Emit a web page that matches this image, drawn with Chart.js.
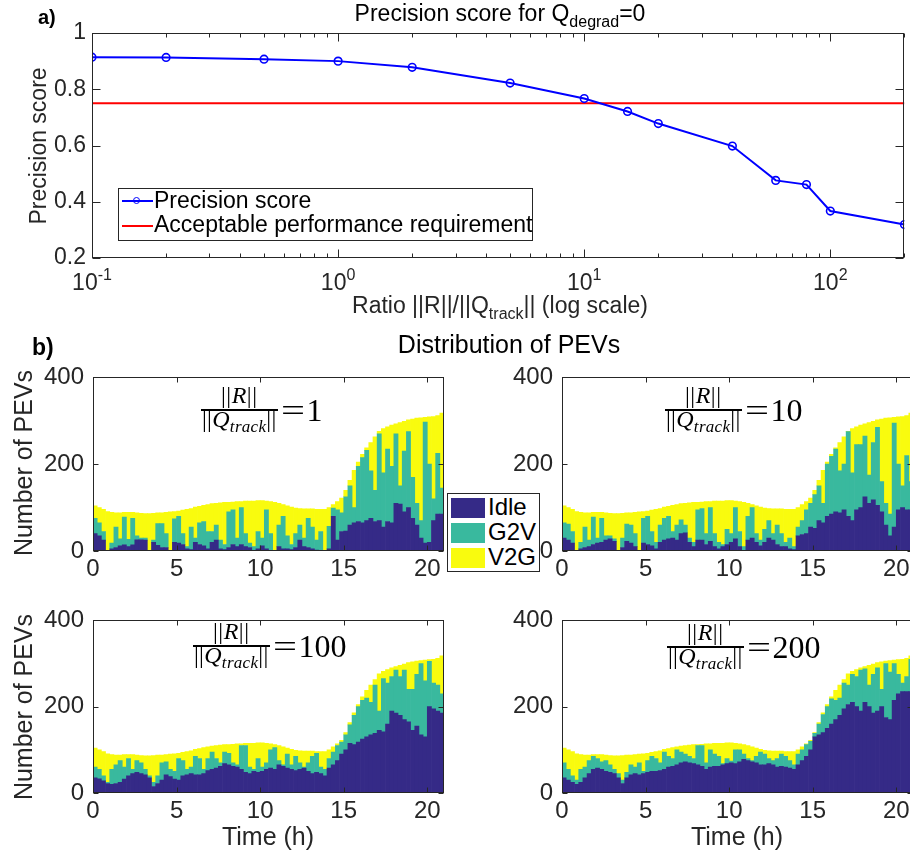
<!DOCTYPE html>
<html><head><meta charset="utf-8">
<script src="https://cdn.jsdelivr.net/npm/chart.js@4.4.1/dist/chart.umd.min.js"></script>
<style>
html,body{margin:0;padding:0;background:#fff;}
body{width:910px;height:859px;position:relative;overflow:hidden;font-family:'Liberation Sans',Arial,Helvetica,sans-serif;color:#262626;}
canvas{position:absolute;}
.t{position:absolute;white-space:nowrap;line-height:1;}
.c{transform:translateX(-50%);}
.rot{transform:translate(-50%,-50%) rotate(-90deg);}
.sub{font-size:16px;vertical-align:-6px;line-height:0;}
.box{position:absolute;border:1px solid #262626;background:#fff;}
.sw{position:absolute;}
.fl{position:absolute;display:flex;align-items:flex-start;font-family:'Liberation Serif','DejaVu Serif',serif;color:#000;line-height:1;}
.frac{display:flex;flex-direction:column;align-items:center;font-size:24px;}
.num{height:25px;line-height:22px;padding:0 1px;white-space:nowrap;letter-spacing:0.5px;}
.den{height:22px;line-height:22px;margin-top:-3px;padding:0 1px;white-space:nowrap;letter-spacing:0.3px;}
.den sub{font-size:17px;line-height:0;vertical-align:-5px;}
.bar{height:2px;background:#000;align-self:stretch;}
.eq{font-size:32px;line-height:32px;margin-top:10px;white-space:nowrap;}
.eq b{font-weight:normal;display:inline-block;transform:scaleX(1.33);margin:0 5px 0 6px;}
</style></head><body>
<canvas id="c0" width="910" height="320" style="left:0;top:0;width:910px;height:320px"></canvas>
<canvas id="c1" width="446" height="240" style="left:0;top:354px;width:446px;height:240px"></canvas>
<canvas id="c2" width="447" height="240" style="left:469px;top:354px;width:447px;height:240px"></canvas>
<canvas id="c3" width="446" height="240" style="left:0;top:597px;width:446px;height:240px"></canvas>
<canvas id="c4" width="447" height="240" style="left:469px;top:597px;width:447px;height:240px"></canvas>

<div class="t" style="left:38px;top:7px;font-weight:bold;font-size:20px;color:#000">a)</div>
<div class="t c" style="left:500px;top:1.5px;font-size:23px;color:#000">Precision score for Q<span class="sub">degrad</span>=0</div>
<div class="t rot" style="left:38px;top:146px;font-size:23px">Precision score</div>
<div class="t c" style="left:500px;top:293.5px;font-size:23px">Ratio ||R||/||Q<span class="sub">track</span>|| (log scale)</div>

<div class="box" style="left:118px;top:188px;width:413px;height:51px"></div>
<div class="sw" style="left:122px;top:200px;width:31px;height:2px;background:#0000ff"></div>
<div class="sw" style="left:133px;top:197px;width:5px;height:5px;border:1.5px solid #0000ff;border-radius:50%"></div>
<div class="sw" style="left:122px;top:225px;width:31px;height:2px;background:#ff0000"></div>
<div class="t" style="left:154px;top:188.5px;font-size:23px;color:#000">Precision score</div>
<div class="t" style="left:154px;top:212.5px;font-size:23px;color:#000">Acceptable performance requirement</div>

<div class="t" style="left:32px;top:335.5px;font-weight:bold;font-size:23px;color:#000">b)</div>
<div class="t c" style="left:509px;top:332px;font-size:25px;color:#000">Distribution of PEVs</div>
<div class="t rot" style="left:23px;top:463px;font-size:25px">Number of PEVs</div>
<div class="t rot" style="left:23px;top:707px;font-size:25px">Number of PEVs</div>
<div class="t c" style="left:268px;top:824px;font-size:25px">Time (h)</div>
<div class="t c" style="left:737px;top:824px;font-size:25px">Time (h)</div>

<div class="box" style="left:447px;top:493px;width:91px;height:77px"></div>
<div class="sw" style="left:451px;top:498px;width:34px;height:20px;background:#352a87"></div>
<div class="sw" style="left:451px;top:523px;width:34px;height:20px;background:#39b99e"></div>
<div class="sw" style="left:451px;top:548px;width:34px;height:20px;background:#f9fb0e"></div>
<div class="t" style="left:488px;top:495px;font-size:24px;color:#000">Idle</div>
<div class="t" style="left:488px;top:520px;font-size:24px;color:#000">G2V</div>
<div class="t" style="left:488px;top:545px;font-size:24px;color:#000">V2G</div>

<div id="fracs"></div>

<script>
// ---------- panel a) data ----------
const ratios = [0.1, 0.2, 0.5, 1, 2, 5, 10, 15, 20, 40, 60, 80, 100, 200];
const precision = [0.914, 0.913, 0.907, 0.900, 0.878, 0.822, 0.767, 0.721, 0.678, 0.598, 0.476, 0.461, 0.367, 0.319];
const requirement = 0.75;
const logTickExponents = [-1, 0, 1, 2];
const precisionTicks = [0.2, 0.4, 0.6, 0.8, 1];

// ---------- panel b) data ----------
const timeSlots = [
 0.125,0.375,0.625,0.875, 1.125,1.375,1.625,1.875, 2.125,2.375,2.625,2.875, 3.125,3.375,3.625,3.875, 4.125,4.375,4.625,4.875,
 5.125,5.375,5.625,5.875, 6.125,6.375,6.625,6.875, 7.125,7.375,7.625,7.875, 8.125,8.375,8.625,8.875, 9.125,9.375,9.625,9.875,
 10.125,10.375,10.625,10.875, 11.125,11.375,11.625,11.875, 12.125,12.375,12.625,12.875, 13.125,13.375,13.625,13.875, 14.125,14.375,14.625,14.875,
 15.125,15.375,15.625,15.875, 16.125,16.375,16.625,16.875, 17.125,17.375,17.625,17.875, 18.125,18.375,18.625,18.875, 19.125,19.375,19.625,19.875,
 20.125,20.375,20.625,20.875];
const timeTicks = [0, 5, 10, 15, 20];
const countTicks = [0, 200, 400];
const panelRatios = [1, 10, 100, 200];

const idle1 = [40,35,25,0,5,8,12,14,10,14, 26,26,25,0,20,13,8,8,0,20, 18,15,5,3,20,15,12,5,20,25, 5,3,8,15,10,15,10,8,0,5,
 12,5,0,0,10,5,5,3,8,25, 10,8,5,2,0,0,5,80,25,45, 46,60,65,68,65,70,75,68,70,55, 68,65,110,108,90,100,75,60,30,18, 20,70,85,85];
const g2v1 = [35,30,20,0,13,47,16,64,17,61, 9,4,5,0,5,50,55,32,0,54, 62,25,5,52,10,50,56,40,25,35, 20,12,82,80,20,85,30,10,10,40,
 18,90,40,0,50,75,30,12,32,35, 20,67,50,23,45,0,52,19,70,43, 79,90,35,127,150,162,110,72,200,125, 167,130,160,42,140,175,95,50,40,279, 180,50,140,60];
const v2g1 = [29,35,51,91,71,33,60,11,62,14, 53,57,56,86,62,25,25,49,90,17, 12,54,86,43,71,38,37,62,64,50, 86,97,22,18,84,14,75,97,105,71,
 86,20,74,112,50,27,69,86,59,38, 67,22,42,71,51,96,43,8,19,34, 15,13,86,10,8,6,65,123,6,102, 51,95,23,146,69,27,134,196,237,11, 109,190,87,173];

const idle2 = [30,25,18,0,5,8,10,15,18,20, 25,28,22,0,8,22,18,10,0,18, 15,12,5,20,25,28,30,25,40,42, 20,10,25,25,15,22,10,5,10,15,
 20,28,10,0,25,30,20,12,20,30, 25,15,10,10,5,3,35,38,40,55, 52,70,65,80,85,90,88,95,80,70, 95,100,125,110,118,105,90,60,35,55, 95,100,95,95];
const g2v2 = [35,37,27,0,15,47,15,63,12,55, 10,7,6,0,22,40,42,30,0,57, 65,33,15,40,50,52,15,35,32,18, 10,10,70,73,25,78,30,15,5,35,
 20,72,35,10,55,70,20,13,30,40, 15,45,30,10,25,7,20,32,55,55, 78,80,45,120,133,145,97,105,195,110, 150,145,140,65,132,180,70,50,50,240, 105,50,125,65];
const v2g2 = [39,38,51,91,69,33,63,11,59,14, 53,52,58,86,57,26,28,49,90,16, 12,49,76,38,26,23,60,47,37,50, 81,92,17,15,74,14,75,95,100,66,
 76,15,69,102,30,7,64,76,49,28, 57,37,57,76,66,86,45,37,19,12, 10,13,76,5,5,3,65,63,1,102, 41,45,28,121,49,17,144,196,222,13, 109,160,92,158];

const idle3 = [35,33,28,22,20,22,25,32,40,45, 48,45,42,35,15,22,30,42,38,32, 30,40,42,45,42,42,45,52,55,58, 62,68,65,62,60,55,48,45,50,48,
 50,55,58,55,65,62,58,55,52,55, 58,50,45,48,45,40,58,65,75,90, 100,115,112,118,125,130,135,138,145,142, 160,190,185,180,170,165,145,155,135,130, 200,195,190,185];
const g2v3 = [25,22,12,3,35,43,50,28,40,10, 27,25,13,5,10,18,40,30,17,18, 50,35,13,15,43,38,10,28,40,22, 8,27,27,8,5,55,62,15,5,32,
 10,15,42,50,10,3,32,10,33,15, 2,20,40,44,15,15,22,30,35,28, 35,43,68,82,90,90,75,112,45,123, 95,80,100,90,115,75,95,120,165,130, 105,60,60,45];
const v2g3 = [44,45,56,66,34,23,13,29,9,34, 13,17,31,46,62,48,18,17,35,41, 12,19,41,38,16,23,50,27,14,30, 41,17,20,43,49,4,5,55,60,36,
 56,45,14,7,35,42,14,36,14,28, 37,27,12,4,36,41,20,12,4,4, 5,5,6,5,8,18,40,13,86,17, 31,20,8,26,14,62,64,31,7,48, 4,55,62,88];

const idle4 = [35,30,25,20,25,35,45,55,58,55, 50,48,45,35,22,35,42,45,42,45, 48,50,50,52,55,60,62,65,70,72, 70,68,65,62,55,60,62,62,65,68,
 70,68,72,78,75,72,70,65,65,68, 65,60,62,60,58,55,65,75,85,100, 130,135,140,150,160,170,180,195,205,210, 200,190,210,200,185,190,200,175,170,215, 230,235,235,235];
const g2v4 = [35,25,15,10,30,25,30,30,22,17, 25,17,10,10,8,13,23,15,28,5, 27,35,30,18,40,25,18,35,25,18, 15,12,45,48,15,40,28,23,3,12,
 4,32,28,12,5,3,15,30,25,12, 10,20,28,25,17,10,25,25,27,20, 8,25,42,50,58,45,40,60,45,65, 70,95,78,50,90,100,40,125,110,85, 45,20,35,75];
const v2g4 = [34,45,56,61,34,28,13,4,9,17, 13,22,31,41,57,40,23,29,20,41, 17,9,16,28,6,18,25,7,14,20, 26,32,2,3,44,14,25,30,47,36,
 42,15,14,22,30,32,19,6,9,18, 22,17,7,11,21,31,10,7,2,2, 2,3,4,5,5,23,30,8,26,7, 16,5,5,46,24,12,64,6,27,8, 34,55,42,8];

// ---------- styling ----------
const FONT = "'Liberation Sans', Arial, Helvetica, sans-serif";
const AXIS = '#262626';
const COL_IDLE = '#352a87', COL_G2V = '#39b99e', COL_V2G = '#f9fb0e';
Chart.defaults.font.family = FONT;
Chart.defaults.color = AXIS;
Chart.defaults.animation = false;

const framePlugin = {
  id: 'frame',
  afterDraw(chart, args, o) {
    const {ctx, chartArea: a} = chart;
    const sx = chart.scales.x, sy = chart.scales.y;
    const L = Math.round(a.left) + 0.5, R = Math.round(a.right) - 0.5;
    const T = Math.round(a.top) + 0.5, B = Math.round(a.bottom) - 0.5;
    ctx.save();
    ctx.strokeStyle = AXIS; ctx.lineWidth = 1;
    ctx.beginPath();
    const tx = (vals, len) => vals.forEach(v => {
      const p = Math.round(sx.getPixelForValue(v)) + 0.5;
      ctx.moveTo(p, B); ctx.lineTo(p, B - len); ctx.moveTo(p, T); ctx.lineTo(p, T + len);
    });
    const ty = (vals, len) => vals.forEach(v => {
      const p = Math.round(sy.getPixelForValue(v)) + 0.5;
      ctx.moveTo(L, p); ctx.lineTo(L + len, p); ctx.moveTo(R, p); ctx.lineTo(R - len, p);
    });
    tx(o.xMajor, o.len); tx(o.xMinor || [], o.minorLen || 0); ty(o.yMajor, o.len);
    ctx.stroke();
    ctx.strokeRect(L, T, R - L, B - T);
    ctx.restore();
  }
};

const logLabelPlugin = {
  id: 'logLabels',
  afterDraw(chart) {
    const sx = chart.scales.x, ctx = chart.ctx;
    ctx.save();
    ctx.fillStyle = AXIS; ctx.textBaseline = 'alphabetic'; ctx.textAlign = 'left';
    logTickExponents.forEach(e => {
      const px = sx.getPixelForValue(Math.pow(10, e));
      ctx.font = "23px " + FONT; const wb = ctx.measureText('10').width;
      ctx.font = "16px " + FONT; const ex = String(e); const we = ctx.measureText(ex).width;
      const x0 = px - (wb + we) / 2;
      ctx.font = "23px " + FONT; ctx.fillText('10', x0, 290);
      ctx.font = "16px " + FONT; ctx.fillText(ex, x0 + wb, 280);
    });
    ctx.restore();
  }
};

// minor ticks on the log axis (positions of 2..9 x each decade)
const logMinor = [];
logTickExponents.forEach(e => { for (let m = 2; m <= 9; m++) { const v = m * Math.pow(10, e); if (v <= 200) logMinor.push(v); } });

new Chart(document.getElementById('c0'), {
  type: 'line',
  data: {
    datasets: [
      { label: 'Precision score', data: ratios.map((r, i) => ({x: r, y: precision[i]})),
        borderColor: '#0000ff', borderWidth: 2, pointRadius: 3.8, pointBorderWidth: 1.6,
        pointBackgroundColor: 'rgba(0,0,0,0)', pointBorderColor: '#0000ff', tension: 0 },
      { label: 'Acceptable performance requirement',
        data: [{x: ratios[0], y: requirement}, {x: ratios[ratios.length - 1], y: requirement}],
        borderColor: '#ff0000', borderWidth: 2, pointRadius: 0 }
    ]
  },
  options: {
    responsive: false, devicePixelRatio: 1, events: [],
    layout: {padding: {top: 33, right: 1, left: 0, bottom: 0}},
    plugins: {legend: {display: false}, tooltip: {enabled: false},
      frame: {xMajor: [0.1, 1, 10, 100], xMinor: logMinor, yMajor: precisionTicks, len: 8, minorLen: 4}},
    scales: {
      x: {type: 'logarithmic', min: 0.1, max: 200, grid: {display: false, drawTicks: false}, border: {display: false},
          ticks: {callback: () => ''}, afterFit: s => { s.height = 62; }},
      y: {min: 0.2, max: 1, grid: {display: false, drawTicks: false}, border: {display: false},
          ticks: {stepSize: 0.2, padding: 6, font: {size: 23}, color: AXIS,
                  callback: v => String(Math.round(v * 10) / 10)},
          afterFit: s => { s.width = 92; }}
    }
  },
  plugins: [framePlugin, logLabelPlugin]
});

function panel(id, idle, g2v, v2g, rightPad, xHeight) {
  new Chart(document.getElementById(id), {
    type: 'bar',
    data: {
      labels: timeSlots,
      datasets: [
        {label: 'Idle', data: idle, backgroundColor: COL_IDLE},
        {label: 'G2V', data: g2v, backgroundColor: COL_G2V},
        {label: 'V2G', data: v2g, backgroundColor: COL_V2G}
      ]
    },
    options: {
      responsive: false, devicePixelRatio: 1, events: [],
      barPercentage: 1, categoryPercentage: 1, borderWidth: 0,
      layout: {padding: {top: 20, right: rightPad, left: 0, bottom: 0}},
      plugins: {legend: {display: false}, tooltip: {enabled: false},
        frame: {xMajor: timeTicks, yMajor: countTicks, len: 5}},
      scales: {
        x: {type: 'linear', stacked: true, offset: false, min: 0, max: 21,
            grid: {display: false, drawTicks: false}, border: {display: false},
            ticks: {stepSize: 5, includeBounds: false, autoSkip: false, maxRotation: 0, padding: 4, font: {size: 24}, color: AXIS},
            afterFit: s => { s.height = xHeight; }},
        y: {stacked: true, min: 0, max: 400,
            grid: {display: false, drawTicks: false}, border: {display: false},
            ticks: {stepSize: 200, padding: 9, font: {size: 24}, color: AXIS},
            afterFit: s => { s.width = 93; }}
      }
    },
    plugins: [framePlugin]
  });
}
panel('c1', idle1, g2v1, v2g1, 2, 43);
panel('c2', idle2, g2v2, v2g2, 3, 43);
panel('c3', idle3, g2v3, v2g3, 2, 44);
panel('c4', idle4, g2v4, v2g4, 3, 44);

// ratio annotations (fraction ||R|| / ||Q_track|| = value); position = left end / top of the fraction rule
const fracPos = [[201, 409], [665, 409], [193, 645], [667, 646]];
const holder = document.getElementById('fracs');
panelRatios.forEach((r, k) => {
  const d = document.createElement('div');
  d.className = 'fl';
  d.style.left = fracPos[k][0] + 'px';
  d.style.top = (fracPos[k][1] - 25) + 'px';
  d.innerHTML = '<div class="frac"><div class="num">||<i>R</i>||</div><div class="bar"></div>' +
    '<div class="den">||<i>Q</i><sub><i>track</i></sub>||</div></div><div class="eq"><b>=</b>' + r + '</div>';
  holder.appendChild(d);
});
</script>
</body></html>
